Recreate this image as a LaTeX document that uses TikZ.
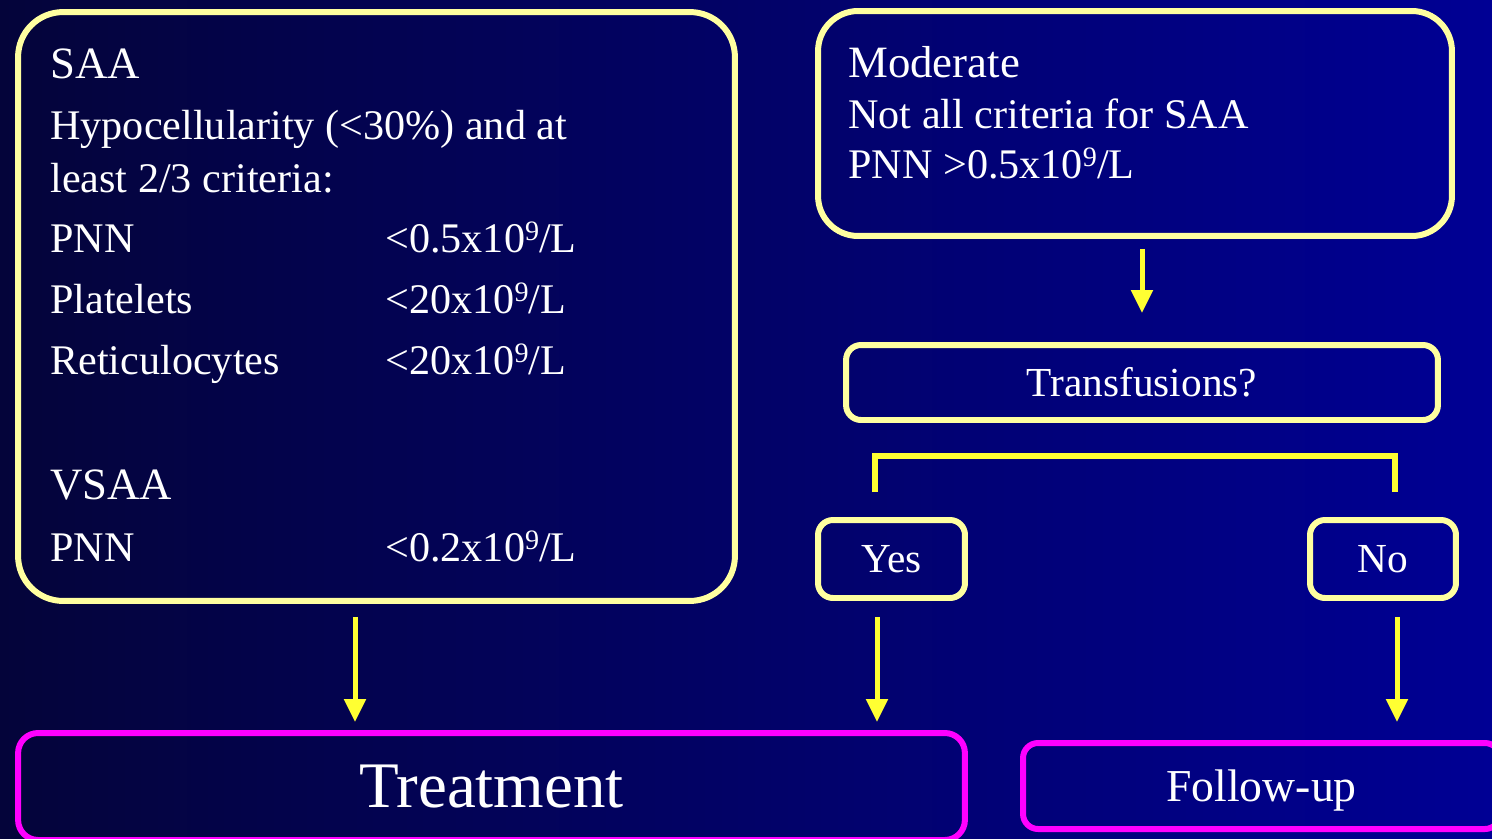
\documentclass[tikz,border=0pt]{standalone}
\usepackage{fontspec}
\setmainfont{Liberation Serif}
\usetikzlibrary{arrows.meta}
\definecolor{bgleft}{RGB}{4,4,58}
\definecolor{bgright}{RGB}{0,0,148}
\definecolor{paleyellow}{RGB}{255,255,160}
\definecolor{brightyellow}{RGB}{255,255,50}
\definecolor{endmagenta}{RGB}{255,0,255}
\newcommand{\expo}[1]{\raisebox{0.27em}{\fontsize{16}{16}\selectfont #1}}
\begin{document}
\begin{tikzpicture}[
			x=0.02cm, y=-0.02cm,
			box/.style={draw=paleyellow, line width=0.12cm, rounded corners=0.3cm, inner sep=0,
					text=white, font=\fontsize{23.5}{28}\selectfont},
			endbox/.style={draw=endmagenta, line width=0.12cm, rounded corners=0.4cm, inner sep=0,
					text=white},
			txt/.style={text=white, anchor=base west, inner sep=0, font=\fontsize{24}{28}\selectfont},
			head/.style={txt, font=\fontsize{25.5}{30}\selectfont},
			arr/.style={draw=brightyellow, line width=0.1cm, -{Triangle[width=0.42cm,length=0.46cm]}},
			fork/.style={draw=brightyellow, line width=0.12cm}
		]
		\useasboundingbox (0,0) rectangle (1492,839);
		\shade[left color=bgleft, right color=bgright] (0,0) rectangle (1492,839);

		% boxes
		\node[box, rounded corners=0.9cm, minimum width=14.34cm, minimum height=11.78cm] (saa) at (376.5,306.5) {};
		\node[box, rounded corners=0.8cm, minimum width=12.68cm, minimum height=4.5cm] (moderate) at (1135,123.5) {};
		\node[box, minimum width=11.84cm, minimum height=1.5cm] (transf) at (1142,382.5) {Transfusions?};
		\node[box, minimum width=2.94cm, minimum height=1.56cm] (yes) at (891.5,559) {Yes};
		\node[box, minimum width=2.92cm, minimum height=1.56cm] (no) at (1383,559) {No};
		\node[endbox, minimum width=18.94cm, minimum height=2.14cm, font=\fontsize{37}{40}\selectfont] (treat) at (491.5,786.5) {Treatment};
		\node[endbox, rounded corners=0.3cm, minimum width=9.54cm, minimum height=1.72cm, text depth=0pt,
			font=\fontsize{26}{30}\selectfont] (follow) at (1261.5,786) {Follow-up};

		% SAA text
		\node[head] (saatitle) at (50,78) {SAA};
		\node[txt] (hypo1) at (50,139) {Hypocellularity (<30\%) and at};
		\node[txt] (hypo2) at (50,192) {least 2/3 criteria:};
		\node[txt] (pnn) at (50,252) {PNN};
		\node[txt] (pnnval) at (385,252) {<0.5x10\expo{9}/L};
		\node[txt] (plt) at (50,313) {Platelets};
		\node[txt] (pltval) at (385,313) {<20x10\expo{9}/L};
		\node[txt] (ret) at (50,374) {Reticulocytes};
		\node[txt] (retval) at (385,374) {<20x10\expo{9}/L};
		\node[head] (vsaatitle) at (50,499) {VSAA};
		\node[txt] (vpnn) at (50,561) {PNN};
		\node[txt] (vpnnval) at (385,561) {<0.2x10\expo{9}/L};

		% moderate text
		\node[head] (modtitle) at (848,77) {Moderate};
		\node[txt] (mod1) at (848,128) {Not all criteria for SAA};
		\node[txt] (mod2) at (848,178) {PNN >0.5x10\expo{9}/L};

		% connectors
		\draw[arr, shorten <=0.2cm, shorten >=0.58cm] (moderate.south -| transf.north) -- (transf.north);
		\coordinate (yesfork) at (875,492);
		\coordinate (nofork) at (1395,492);
		\draw[fork] (yesfork) -- ++(0,-36) -| (nofork);
		\draw[arr, shorten <=0.26cm, shorten >=0.16cm] ([xshift=-0.43cm]saa.south) -- ([xshift=-0.43cm]saa.south |- treat.north);
		\draw[arr, shorten <=0.32cm, shorten >=0.16cm] ([xshift=-0.29cm]yes.south) -- ([xshift=-0.29cm]yes.south |- treat.north);
		\draw[arr, shorten <=0.32cm, shorten >=0.36cm] ([xshift=0.28cm]no.south) -- ([xshift=0.28cm]no.south |- follow.north);
	\end{tikzpicture}
\end{document}
